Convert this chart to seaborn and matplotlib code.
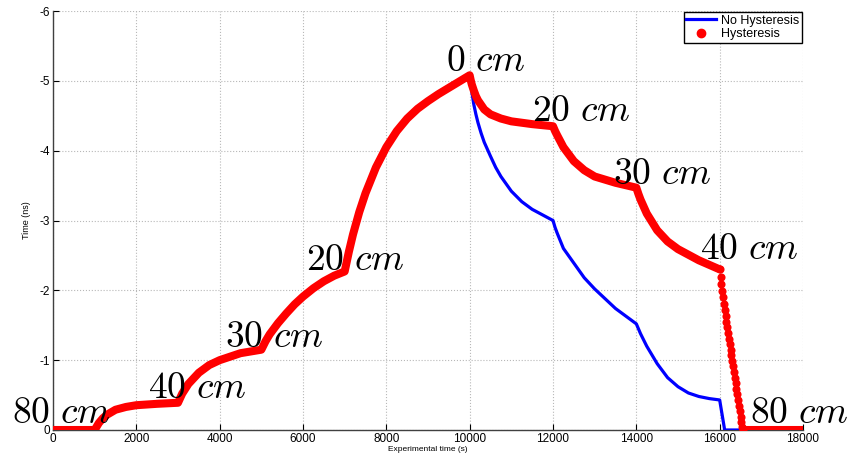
import numpy as np
import pandas as pd
import seaborn as sns
import matplotlib.pyplot as plt
from matplotlib.lines import Line2D

# shared rising part (both curves identical up to 10000 s)
t_rise = [0, 1000, 1100, 1200, 1300, 1500, 1750, 2000, 2500, 3000,
          3100, 3250, 3500, 3750, 4000, 4500, 5000,
          5100, 5200, 5400, 5600, 5800, 6000, 6250, 6500, 6750, 7000,
          7100, 7200, 7350, 7500, 7750, 8000, 8250, 8500, 8750, 9000,
          9250, 9500, 9750, 10000]
v_rise = [0, 0, -0.10, -0.17, -0.22, -0.29, -0.33, -0.355, -0.375, -0.39,
          -0.52, -0.66, -0.82, -0.93, -1.00, -1.10, -1.15,
          -1.27, -1.37, -1.53, -1.67, -1.80, -1.91, -2.03, -2.13, -2.21, -2.27,
          -2.55, -2.80, -3.12, -3.39, -3.76, -4.05, -4.28, -4.46, -4.60, -4.71,
          -4.81, -4.90, -4.99, -5.08]

# no hysteresis, after 10000 s
t_nohys = [10025, 10050, 10100, 10150, 10200, 10275, 10350, 10500, 10625, 10750, 11000,
           11250, 11500, 11750, 12000,
           12050, 12100, 12250, 12500, 12750, 13000, 13250, 13500, 13750, 14000,
           14050, 14100, 14250, 14500, 14750, 15000, 15250, 15500, 15750, 16000, 16120, 18000]
v_nohys = [-4.96, -4.85, -4.66, -4.52, -4.40, -4.25, -4.12, -3.92, -3.76, -3.63, -3.42,
           -3.27, -3.16, -3.08, -3.00,
           -2.90, -2.82, -2.60, -2.39, -2.18, -2.02, -1.88, -1.74, -1.63, -1.52,
           -1.45, -1.38, -1.20, -0.95, -0.75, -0.62, -0.53, -0.48, -0.45, -0.43, 0, 0]

# hysteresis, after 10000 s
t_hys = [10025, 10050, 10100, 10150, 10200, 10350, 10500, 10750, 11000, 11500, 12000,
         12050, 12100, 12250, 12500, 12750, 13000, 13500, 14000,
         14050, 14100, 14250, 14500, 14750, 15000, 15500, 16000]
v_hys = [-5.01, -4.95, -4.86, -4.78, -4.72, -4.59, -4.52, -4.46, -4.42, -4.38, -4.35,
         -4.28, -4.22, -4.05, -3.85, -3.72, -3.63, -3.54, -3.47,
         -3.38, -3.30, -3.10, -2.86, -2.70, -2.59, -2.43, -2.30]

# hysteresis drop (individual samples visible)
t_drop = [16000, 16020, 16040, 16060, 16080, 16100, 16120, 16140, 16160, 16180,
          16200, 16220, 16240, 16260, 16280, 16300, 16320, 16340, 16360, 16380,
          16400, 16420, 16440, 16460, 16480, 16500, 16520, 16540, 16560]
v_drop = [-2.30, -2.19, -2.09, -1.99, -1.90, -1.81, -1.72, -1.63, -1.55, -1.47,
          -1.39, -1.31, -1.23, -1.15, -1.07, -0.99, -0.91, -0.83, -0.75, -0.67,
          -0.59, -0.51, -0.43, -0.35, -0.27, -0.19, -0.11, -0.04, 0.00]

t_tail = [16560, 18000]
v_tail = [0, 0]

labels = [r'$80\ cm$', r'$40\ cm$', r'$30\ cm$', r'$20\ cm$', r'$0\ cm$',
          r'$20\ cm$', r'$30\ cm$', r'$40\ cm$', r'$80\ cm$']
label_x = [-991, 2280, 4128, 6072, 9432, 11488, 13448, 15528, 16728]
label_y = [-0.10, -0.457, -1.186, -2.286, -5.143, -4.419, -3.524, -2.443, -0.10]

plt.rcParams['font.family'] = ['Liberation Sans', 'DejaVu Sans']
plt.rcParams['mathtext.fontset'] = 'cm'
plt.rcParams['axes.unicode_minus'] = False

fig = plt.figure(figsize=(8.47, 4.57), dpi=100)
ax = fig.add_axes([53/847, 27/457, 750/847, 419/457])

blue = pd.DataFrame({'t': t_rise + t_nohys, 'v': v_rise + v_nohys})
red = pd.DataFrame({'t': t_rise + t_hys, 'v': v_rise + v_hys})
drop = pd.DataFrame({'t': t_drop, 'v': v_drop})
tail = pd.DataFrame({'t': t_tail, 'v': v_tail})

sns.lineplot(data=blue, x='t', y='v', color='#0000ff', lw=2.3, sort=False,
             estimator=None, ax=ax, zorder=3)
sns.lineplot(data=red, x='t', y='v', color='#ff0000', lw=5.8, sort=False,
             estimator=None, ax=ax, zorder=4, solid_capstyle='round',
             solid_joinstyle='round')
sns.lineplot(data=tail, x='t', y='v', color='#ff0000', lw=5.8, sort=False,
             estimator=None, ax=ax, zorder=4, solid_capstyle='round')
sns.scatterplot(data=drop, x='t', y='v', color='#ff0000', s=34, linewidth=0,
                ax=ax, zorder=4)

for lab, lx, ly in zip(labels, label_x, label_y):
    ax.text(lx, ly, lab, fontsize=27, ha='left', va='baseline', zorder=5)

ax.set_xlim(0, 18000)
ax.set_ylim(0, -6)
ax.set_xticks(np.arange(0, 18001, 2000))
ax.set_yticks(np.arange(-6, 0.5, 1))
ax.grid(True, color='#b8b8b8', linestyle=':', linewidth=0.8)
ax.set_axisbelow(True)
for s in ['top', 'right']:
    ax.spines[s].set_visible(False)
for s in ['left', 'bottom']:
    ax.spines[s].set_color('#404040')
    ax.spines[s].set_linewidth(1.0)
ax.tick_params(direction='in', length=4, labelsize=8.5, colors='black', pad=2)
ax.set_xlabel('Experimental time (s)', fontsize=6, labelpad=1)
ax.set_ylabel('Time (ns)', fontsize=6.5, labelpad=6)

handles = [Line2D([], [], color='#0000ff', lw=2.3),
           Line2D([], [], color='#ff0000', marker='o', ls='none', markersize=6)]
leg = ax.legend(handles, ['No Hysteresis', 'Hysteresis'], loc='upper right',
                fontsize=9, frameon=True, fancybox=False, framealpha=1,
                edgecolor='black', borderpad=0.2, labelspacing=0.1,
                handlelength=2.4, handletextpad=0.4, borderaxespad=0.1)
leg.get_frame().set_linewidth(1.0)

fig.savefig('out.png', dpi=100)
